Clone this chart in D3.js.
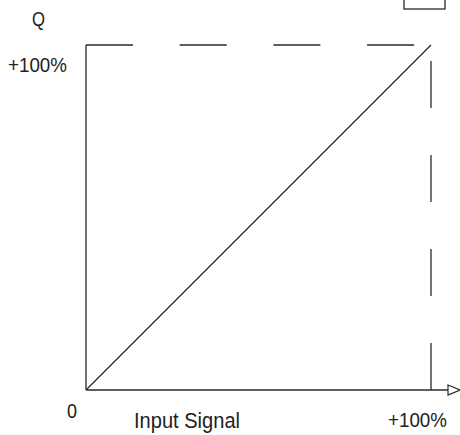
<!DOCTYPE html>
<html><head><meta charset="utf-8">
<script src="https://cdn.jsdelivr.net/npm/d3@7"></script>
<style>body{margin:0;background:#fff}svg{display:block}text{font-family:"Liberation Sans",Arial,sans-serif;fill:#222}</style>
</head><body>
<script>
const inputPct = [0, 100];
const outputPct = [0, 100];
const xTickLabels = ["0", "+100%"];
const yTickLabels = ["+100%"];
const xTitle = "Input Signal";
const yTitle = "Q";

const W = 460, H = 435;
const svg = d3.select("body").append("svg").attr("width", W).attr("height", H);
const x = d3.scaleLinear().domain([0, 100]).range([86, 431]);
const y = d3.scaleLinear().domain([0, 100]).range([390, 45]);
const stroke = "#2a2a2a";

// box at top right (partly off-page)
svg.append("rect").attr("x", 404).attr("y", -10).attr("width", 41).attr("height", 19)
  .attr("fill", "none").attr("stroke", stroke).attr("stroke-width", 1.3);

// y axis
svg.append("line").attr("x1", x(0)).attr("x2", x(0)).attr("y1", y(0)).attr("y2", y(100))
  .attr("stroke", stroke).attr("stroke-width", 1.3);
// x axis
svg.append("line").attr("x1", x(0)).attr("x2", 448).attr("y1", y(0)).attr("y2", y(0))
  .attr("stroke", stroke).attr("stroke-width", 1.3);
// arrow
svg.append("path").attr("d", `M448,${y(0)-5}L460,${y(0)}L448,${y(0)+5}Z`)
  .attr("fill", "#fff").attr("stroke", stroke).attr("stroke-width", 1.2);

// dashed top line
svg.append("line").attr("x1", x(0)).attr("x2", x(100)).attr("y1", y(100)).attr("y2", y(100))
  .attr("stroke", stroke).attr("stroke-width", 1.3).attr("stroke-dasharray", "47,46.7");
// dashed vertical line (from bottom up)
svg.append("line").attr("x1", x(100)).attr("x2", x(100)).attr("y1", y(0)).attr("y2", y(100))
  .attr("stroke", stroke).attr("stroke-width", 1.3).attr("stroke-dasharray", "47,47");

// transfer line
const line = d3.line().x((d, i) => x(d)).y((d, i) => y(outputPct[i]));
svg.append("path").datum(inputPct).attr("d", line)
  .attr("fill", "none").attr("stroke", stroke).attr("stroke-width", 1.3);

// labels
function label(tx, ty, size, len, s) {
  svg.append("text").attr("x", tx).attr("y", ty).attr("font-size", size)
    .attr("textLength", len).attr("lengthAdjust", "spacingAndGlyphs").text(s);
}
label(32, 26, 19.5, 13, yTitle);
label(8, 72, 19.5, 59, yTickLabels[0]);
label(67, 418, 21, 10, xTickLabels[0]);
label(134, 428, 21.5, 106, xTitle);
label(388, 427, 21, 59, xTickLabels[1]);
</script>
</body></html>
